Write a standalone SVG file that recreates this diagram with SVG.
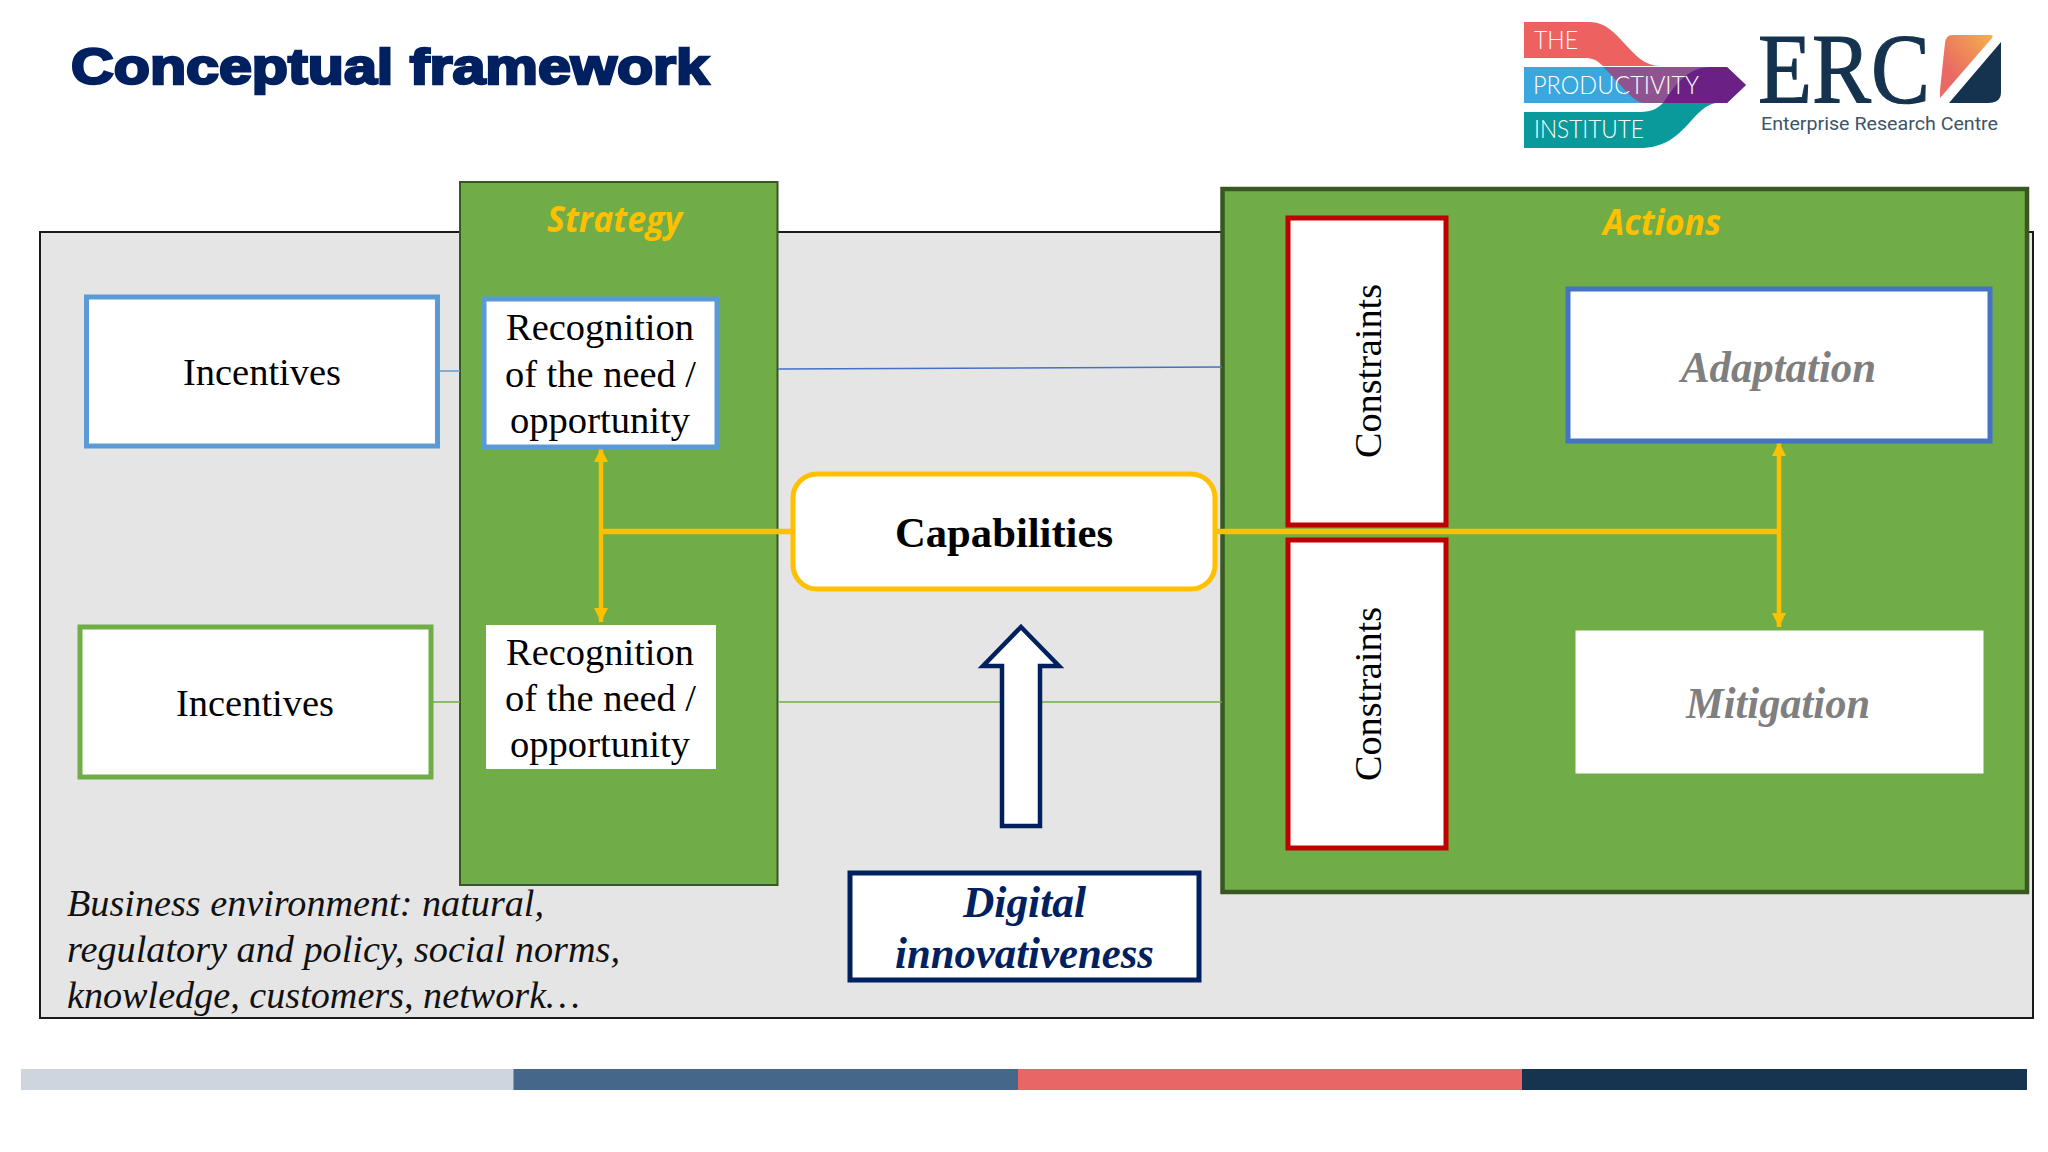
<svg xmlns="http://www.w3.org/2000/svg" width="2048" height="1152" viewBox="0 0 2048 1152">
<style>
.panel{fill:#70AD47;stroke:#385723}
.box{fill:#fff}
.s{font-family:"Liberation Serif","Times New Roman",serif;fill:#000}
.ctr{text-anchor:middle}
.lbl{font-family:"Open Sans","Liberation Sans",sans-serif;font-weight:700;font-style:italic;font-size:36px;fill:#FFC000}
.act{font-weight:700;font-style:italic;font-size:44px;fill:#7F7F7F}
.dig{font-weight:700;font-style:italic;font-size:44px;fill:#002060}
.bus{font-style:italic;font-size:38px;fill:#111}
.rec{font-size:38px}
.yl{stroke:#FFC000;fill:none}
.logo{font-family:"Lato","Open Sans",sans-serif;font-weight:300;font-size:25px;fill:#fff}
</style>
<defs>
<marker id="ah" markerUnits="userSpaceOnUse" markerWidth="15" markerHeight="15" refX="14" refY="7.5" orient="auto-start-reverse"><path d="M0 0.500L14 7.500L0 14.500Z" fill="#FFC000"/></marker>
<linearGradient id="erc" x1="0" y1="1" x2="1" y2="0"><stop offset="0.3" stop-color="#E96A64"/><stop offset="1" stop-color="#F5B04A"/></linearGradient>
</defs>
<rect width="2048" height="1152" fill="#fff"/>
<g id="title"><text x="71" y="84" textLength="638" lengthAdjust="spacingAndGlyphs" font-family="Liberation Sans,Arial,sans-serif" font-weight="700" font-size="50" fill="#002060" stroke="#002060" stroke-width="2.500">Conceptual framework</text></g>
<g id="logo-productivity">
<path d="M1524 22H1590C1620 22 1630 66 1660 66H1603C1597 60 1592 58 1585 58H1524Z" fill="#EE6161"/>
<path d="M1524 67H1727L1746 85L1727 103H1524Z" fill="#3AA7DF"/>
<path d="M1524 112H1640C1652 112 1658 108 1663 103H1716C1690 108 1685 148 1640 148H1524Z" fill="#0A9A9C"/>
<path d="M1603 67H1710C1685 67 1672 90 1663 103H1643C1630 100 1618 80 1603 67Z" fill="#8F5490"/>
<path d="M1663 103C1672 90 1685 67 1710 67H1727L1746 85L1727 103Z" fill="#6B2085"/>
<text class="logo" x="1534" y="49" textLength="44" lengthAdjust="spacingAndGlyphs">THE</text>
<text class="logo" x="1533" y="94" textLength="166" lengthAdjust="spacingAndGlyphs">PRODUCTIVITY</text>
<text class="logo" x="1534" y="138" textLength="110" lengthAdjust="spacingAndGlyphs">INSTITUTE</text>
</g>
<g id="logo-erc">
<text x="1758" y="102" textLength="172" lengthAdjust="spacingAndGlyphs" font-family="Liberation Serif,serif" font-size="100" fill="#15324F" stroke="#15324F" stroke-width="1.200">ERC</text>
<path d="M1952 35H1990Q1994 35 1992 38L1940 98V90L1945 43Q1946 35 1952 35Z" fill="url(#erc)"/>
<path d="M2001 42V92Q2001 103 1988 103H1949Z" fill="#15324F"/>
<text x="1761" y="130" textLength="237" lengthAdjust="spacingAndGlyphs" font-family="Roboto,sans-serif" font-size="19" fill="#3E5468">Enterprise Research Centre</text>
</g>
<g id="business-environment">
<rect x="40" y="232" width="1993" height="786" fill="#E5E5E5" stroke="#1a1a1a" stroke-width="2"/>
<text class="s bus" x="67" y="916" textLength="477" lengthAdjust="spacingAndGlyphs">Business environment: natural,</text>
<text class="s bus" x="67" y="962" textLength="553" lengthAdjust="spacingAndGlyphs">regulatory and policy, social norms,</text>
<text class="s bus" x="67" y="1008" textLength="513" lengthAdjust="spacingAndGlyphs">knowledge, customers, network…</text>
</g>
<g id="strategy">
<rect class="panel" x="460" y="182" width="317.500" height="703" stroke-width="2"/>
<text class="lbl" x="547" y="232" textLength="135" lengthAdjust="spacingAndGlyphs">Strategy</text>
</g>
<g id="actions">
<rect class="panel" x="1222.500" y="189" width="804.500" height="703" stroke-width="4.500"/>
<text class="lbl" x="1603" y="235" textLength="118" lengthAdjust="spacingAndGlyphs">Actions</text>
</g>
<g id="connectors">
<path d="M439 371H460" stroke="#5B9BD5" stroke-width="1.500" fill="none"/>
<path d="M778 369L1222 367" stroke="#4472C4" stroke-width="1.500" fill="none"/>
<path d="M431 702H460" stroke="#70AD47" stroke-width="1.500" fill="none"/>
<path d="M778 702H1222" stroke="#70AD47" stroke-width="1.500" fill="none"/>
<path class="yl" stroke-width="5.500" d="M601 531.500H791"/>
<path class="yl" stroke-width="4.500" d="M601 622V448" marker-start="url(#ah)" marker-end="url(#ah)"/>
<path class="yl" stroke-width="5.500" d="M1217 531.500H1779"/>
<path class="yl" stroke-width="4.500" d="M1779 627V442" marker-start="url(#ah)" marker-end="url(#ah)"/>
</g>
<g id="incentives-1">
<rect class="box" x="86.500" y="297" width="351" height="149" stroke="#5B9BD5" stroke-width="5"/>
<text class="s rec ctr" x="262" y="385" textLength="158" lengthAdjust="spacingAndGlyphs">Incentives</text>
</g>
<g id="incentives-2">
<rect class="box" x="80" y="627" width="351" height="150" stroke="#70AD47" stroke-width="5"/>
<text class="s rec ctr" x="255" y="716" textLength="158" lengthAdjust="spacingAndGlyphs">Incentives</text>
</g>
<g id="recognition-1">
<rect class="box" x="484" y="299" width="233" height="148" stroke="#5B9BD5" stroke-width="5"/>
<text class="s rec" x="506" y="340" textLength="188" lengthAdjust="spacingAndGlyphs">Recognition</text>
<text class="s rec" x="505" y="387" textLength="191" lengthAdjust="spacingAndGlyphs">of the need /</text>
<text class="s rec" x="510" y="433" textLength="180" lengthAdjust="spacingAndGlyphs">opportunity</text>
</g>
<g id="recognition-2">
<rect class="box" x="486" y="625" width="230" height="144"/>
<text class="s rec" x="506" y="665" textLength="188" lengthAdjust="spacingAndGlyphs">Recognition</text>
<text class="s rec" x="505" y="711" textLength="191" lengthAdjust="spacingAndGlyphs">of the need /</text>
<text class="s rec" x="510" y="757" textLength="180" lengthAdjust="spacingAndGlyphs">opportunity</text>
</g>
<g id="capabilities">
<rect class="box" x="793" y="474" width="422" height="115" rx="24" stroke="#FFC000" stroke-width="5"/>
<text class="s" x="895" y="547" textLength="218" lengthAdjust="spacingAndGlyphs" font-size="43" font-weight="700">Capabilities</text>
</g>
<g id="constraints-1">
<rect class="box" x="1288" y="218" width="158" height="307" stroke="#C00000" stroke-width="5"/>
<text class="s rec ctr" transform="translate(1381 371) rotate(-90)" x="0" y="0" textLength="174" lengthAdjust="spacingAndGlyphs">Constraints</text>
</g>
<g id="constraints-2">
<rect class="box" x="1288" y="540" width="158" height="308" stroke="#C00000" stroke-width="5"/>
<text class="s rec ctr" transform="translate(1381 694) rotate(-90)" x="0" y="0" textLength="174" lengthAdjust="spacingAndGlyphs">Constraints</text>
</g>
<g id="adaptation">
<rect class="box" x="1568" y="289" width="422" height="152" stroke="#4472C4" stroke-width="5"/>
<text class="s act" x="1681" y="382" textLength="195" lengthAdjust="spacingAndGlyphs">Adaptation</text>
</g>
<g id="mitigation">
<rect class="box" x="1575.500" y="630.500" width="408" height="143"/>
<text class="s act" x="1686" y="718" textLength="184" lengthAdjust="spacingAndGlyphs">Mitigation</text>
</g>
<g id="up-arrow">
<path d="M1021 627L1059 666H1040V826H1002V666H983Z" fill="#fff" stroke="#002060" stroke-width="4.500"/>
</g>
<g id="digital-innovativeness">
<rect class="box" x="850" y="873" width="349" height="107" stroke="#002060" stroke-width="5"/>
<text class="s dig" x="963" y="917" textLength="123" lengthAdjust="spacingAndGlyphs">Digital</text>
<text class="s dig" x="895" y="968" textLength="259" lengthAdjust="spacingAndGlyphs">innovativeness</text>
</g>
<g id="footer-bar">
<rect x="21" y="1069" width="493" height="21" fill="#CFD5DF"/>
<rect x="513.500" y="1069" width="504.500" height="21" fill="#44678A"/>
<rect x="1018" y="1069" width="504" height="21" fill="#E96666"/>
<rect x="1522" y="1069" width="505" height="21" fill="#163350"/>
</g>
</svg>
